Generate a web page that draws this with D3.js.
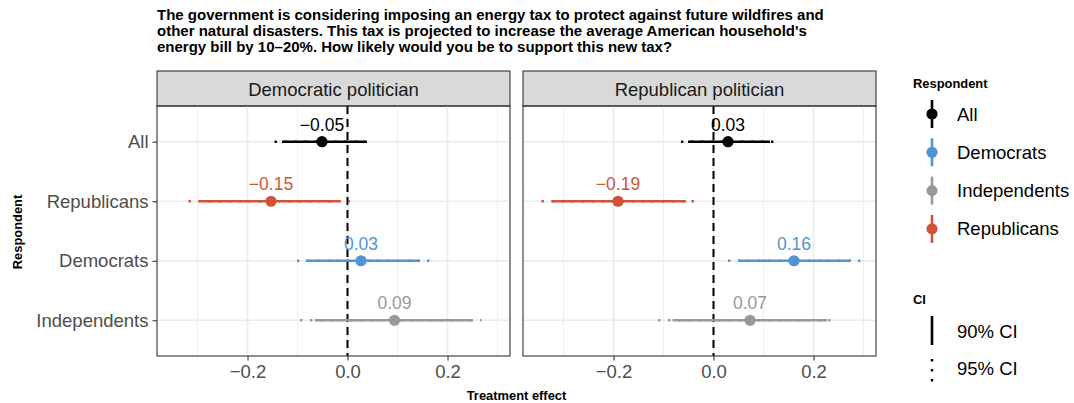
<!DOCTYPE html>
<html>
<head>
<meta charset="utf-8">
<script src="https://cdn.jsdelivr.net/npm/d3@7"></script>
<style>
  body { margin: 0; background: #fff; }
  svg { font-family: "Liberation Sans", Arial, Helvetica, sans-serif; }
</style>
</head>
<body>
<svg id="chart" width="1074" height="403"></svg>
<script>
  var TITLE_LINES = [
    "The government is considering imposing an energy tax to protect against future wildfires and",
    "other natural disasters. This tax is projected to increase the average American household's",
    "energy bill by 10\u201320%. How likely would you be to support this new tax?"
  ];
  var panels = [ "Democratic politician", "Republican politician" ];
  var respondents = [ "All", "Republicans", "Democrats", "Independents" ];
  var legendOrder = [ "All", "Democrats", "Independents", "Republicans" ];
  var colors = { All: "#000000", Democrats: "#4f94d4", Independents: "#999999", Republicans: "#d1533b" };
  var xTicks = [ -0.2, 0, 0.2 ];
  var xMinor = [ -0.3, -0.1, 0.1, 0.3 ];

  // estimate, 90% lo/hi, 95% lo/hi -- in respondents order
  var demEstimate = [ -0.051, -0.153, 0.027, 0.094 ];
  var demLo90 = [ -0.131, -0.298, -0.083, -0.065 ];
  var demHi90 = [ 0.035, -0.016, 0.145, 0.251 ];
  var demLo95 = [ -0.146, -0.318, -0.101, -0.095 ];
  var demHi95 = [ 0.050, 0.005, 0.165, 0.268 ];

  var repEstimate = [ 0.029, -0.191, 0.161, 0.073 ];
  var repLo90 = [ -0.051, -0.324, 0.049, -0.082 ];
  var repHi90 = [ 0.113, -0.055, 0.275, 0.227 ];
  var repLo95 = [ -0.065, -0.344, 0.029, -0.111 ];
  var repHi95 = [ 0.128, -0.034, 0.295, 0.247 ];

  var panelData = [
    [ demEstimate, demLo90, demHi90, demLo95, demHi95 ],
    [ repEstimate, repLo90, repHi90, repLo95, repHi95 ]
  ];

  var BIG = 18.5, LABEL = 17.5, SMALL = 12.9;

  var svg = d3.select("#chart");
  var fmt = function (v) { return d3.format(".2f")(v).replace("-", "\u2212"); };

  var stripTop = 71, stripBottom = 106, panelBottom = 356;
  var panelX = [ [157, 510], [523, 876] ];

  var y = d3.scalePoint()
      .domain(respondents)
      .range([stripBottom, panelBottom])
      .padding(0.6);

  /* Title */
  svg.append("g").selectAll("text")
    .data(TITLE_LINES)
    .enter().append("text")
      .attr("x", 157)
      .attr("y", function (d, i) { return 20 + i * 16; })
      .attr("font-size", 15)
      .attr("font-weight", "bold")
      .text(function (d) { return d; });

  panels.forEach(function (name, p) {
    var x = d3.scaleLinear()
        .domain([-0.381, 0.325])
        .range(panelX[p]);
    var x0 = panelX[p][0], x1 = panelX[p][1];
    var g = svg.append("g");

    // strip
    g.append("rect")
      .attr("x", x0).attr("y", stripTop)
      .attr("width", x1 - x0).attr("height", stripBottom - stripTop)
      .attr("fill", "#d9d9d9").attr("stroke", "#333").attr("stroke-width", 1.1);
    g.append("text")
      .attr("x", (x0 + x1) / 2).attr("y", stripBottom - 10.5)
      .attr("text-anchor", "middle").attr("font-size", BIG).attr("fill", "#1a1a1a")
      .text(name);

    // grid
    g.selectAll(".minor").data(xMinor).enter().append("line")
      .attr("x1", x).attr("x2", x)
      .attr("y1", stripBottom).attr("y2", panelBottom)
      .attr("stroke", "#ebebeb").attr("stroke-width", 0.8);
    g.selectAll(".major").data(xTicks).enter().append("line")
      .attr("x1", x).attr("x2", x)
      .attr("y1", stripBottom).attr("y2", panelBottom)
      .attr("stroke", "#ebebeb").attr("stroke-width", 1.6);
    g.selectAll(".hgrid").data(respondents).enter().append("line")
      .attr("x1", x0).attr("x2", x1)
      .attr("y1", y).attr("y2", y)
      .attr("stroke", "#ebebeb").attr("stroke-width", 1.6);

    // zero line
    g.append("line")
      .attr("x1", x(0)).attr("x2", x(0))
      .attr("y1", stripBottom).attr("y2", panelBottom)
      .attr("stroke", "#000").attr("stroke-width", 2)
      .attr("stroke-dasharray", "8,5");

    var cols = panelData[p];
    var rows = respondents.map(function (r, i) {
      return { who: r, est: cols[0][i], lo90: cols[1][i], hi90: cols[2][i], lo95: cols[3][i], hi95: cols[4][i] };
    });

    var ci = g.selectAll(".ci").data(rows).enter().append("g");
    ci.append("line")
      .attr("x1", function (d) { return x(d.lo95); })
      .attr("x2", function (d) { return x(d.hi95); })
      .attr("y1", function (d) { return y(d.who); })
      .attr("y2", function (d) { return y(d.who); })
      .attr("stroke", function (d) { return colors[d.who]; })
      .attr("stroke-width", 2.4)
      .attr("stroke-dasharray", "2.4,7.6");
    ci.append("line")
      .attr("x1", function (d) { return x(d.lo90); })
      .attr("x2", function (d) { return x(d.hi90); })
      .attr("y1", function (d) { return y(d.who); })
      .attr("y2", function (d) { return y(d.who); })
      .attr("stroke", function (d) { return colors[d.who]; })
      .attr("stroke-width", 2.6);
    ci.append("circle")
      .attr("cx", function (d) { return x(d.est); })
      .attr("cy", function (d) { return y(d.who); })
      .attr("r", 5.6)
      .attr("fill", function (d) { return colors[d.who]; });
    ci.append("text")
      .attr("x", function (d) { return x(d.est); })
      .attr("y", function (d) { return y(d.who) - 11; })
      .attr("text-anchor", "middle").attr("font-size", LABEL)
      .attr("fill", function (d) { return colors[d.who]; })
      .text(function (d) { return fmt(d.est); });

    // panel border
    g.append("rect")
      .attr("x", x0).attr("y", stripBottom)
      .attr("width", x1 - x0).attr("height", panelBottom - stripBottom)
      .attr("fill", "none").attr("stroke", "#333").attr("stroke-width", 1.1);

    // x axis
    var ax = g.append("g")
        .attr("transform", "translate(0," + panelBottom + ")")
        .call(d3.axisBottom(x).tickValues(xTicks).tickSize(4.5).tickPadding(4.5)
          .tickFormat(function (d) { return d3.format(".1f")(d).replace("-", "\u2212"); }));
    ax.select(".domain").remove();
    ax.selectAll("line").attr("stroke", "#333").attr("stroke-width", 1.1);
    ax.selectAll("text").attr("font-size", BIG).attr("fill", "#4d4d4d").attr("font-family", null);

    if (p === 0) {
      var ay = g.append("g")
          .attr("transform", "translate(" + x0 + ",0)")
          .call(d3.axisLeft(y).tickSize(4.5).tickPadding(4));
      ay.select(".domain").remove();
      ay.selectAll("line").attr("stroke", "#333").attr("stroke-width", 1.1);
      ay.selectAll("text").attr("font-size", BIG).attr("fill", "#4d4d4d").attr("font-family", null);
    }
  });

  /* axis titles */
  svg.append("text")
    .attr("x", 516.5).attr("y", 400)
    .attr("text-anchor", "middle").attr("font-size", SMALL).attr("font-weight", "bold")
    .text("Treatment effect");
  svg.append("text")
    .attr("transform", "translate(22,232) rotate(-90)")
    .attr("text-anchor", "middle").attr("font-size", SMALL).attr("font-weight", "bold")
    .text("Respondent");

  /* Legends */
  var leg = svg.append("g");
  leg.append("text")
    .attr("x", 913).attr("y", 88)
    .attr("font-size", SMALL).attr("font-weight", "bold")
    .text("Respondent");
  var item = leg.selectAll(".item").data(legendOrder).enter().append("g")
      .attr("transform", function (d, i) { return "translate(932," + (114 + i * 38.3) + ")"; });
  item.append("line")
    .attr("y1", -14).attr("y2", 14)
    .attr("stroke", function (d) { return colors[d]; }).attr("stroke-width", 2.6);
  item.append("circle")
    .attr("r", 5.6)
    .attr("fill", function (d) { return colors[d]; });
  item.append("text")
    .attr("x", 25).attr("y", 6.5)
    .attr("font-size", BIG)
    .text(function (d) { return d; });

  leg.append("text")
    .attr("x", 913).attr("y", 304)
    .attr("font-size", SMALL).attr("font-weight", "bold")
    .text("CI");
  leg.append("line")
    .attr("x1", 932).attr("x2", 932).attr("y1", 316).attr("y2", 345)
    .attr("stroke", "#000").attr("stroke-width", 2.6);
  leg.append("line")
    .attr("x1", 932).attr("x2", 932).attr("y1", 359).attr("y2", 382)
    .attr("stroke", "#000").attr("stroke-width", 2.4)
    .attr("stroke-dasharray", "2.4,7.6");
  leg.append("text").attr("x", 957).attr("y", 337.5).attr("font-size", BIG).text("90% CI");
  leg.append("text").attr("x", 957).attr("y", 374.5).attr("font-size", BIG).text("95% CI");
</script>
</body>
</html>
